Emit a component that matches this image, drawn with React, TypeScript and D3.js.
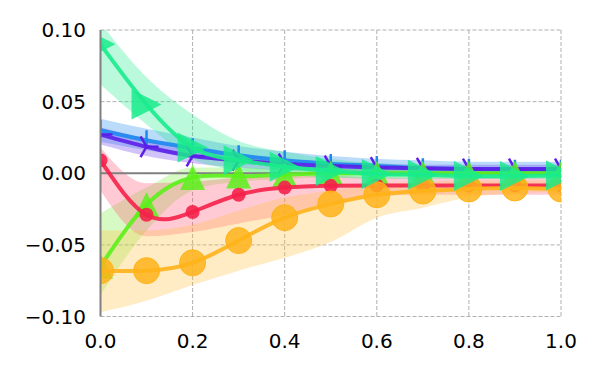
import React from "react";
import * as d3 from "d3";

const xs = [0, 0.1, 0.2, 0.3, 0.4, 0.5, 0.6, 0.7, 0.8, 0.9, 1.0];

// series values
const blueVals = [0.030, 0.023, 0.0175, 0.0125, 0.009, 0.0065, 0.005, 0.0035, 0.003, 0.0025, 0.0025];
const blueHi = [0.038, 0.031, 0.025, 0.019, 0.015, 0.012, 0.010, 0.009, 0.008, 0.008, 0.008];
const blueLo = [0.022, 0.016, 0.011, 0.007, 0.004, 0.002, 0.001, 0.0, -0.001, -0.001, -0.001];

const purpleVals = [0.027, 0.0185, 0.012, 0.009, 0.0065, 0.005, 0.004, 0.0035, 0.003, 0.003, 0.003];
const purpleHi = [0.032, 0.024, 0.017, 0.013, 0.010, 0.008, 0.007, 0.006, 0.006, 0.006, 0.006];
const purpleLo = [0.020, 0.012, 0.007, 0.004, 0.002, 0.001, 0.0, 0.0, 0.0, 0.0, 0.0];

const limeVals = [-0.065, -0.022, -0.003, -0.002, -0.001, 0, 0, 0, 0, 0, 0];
const limeHi = [-0.028, -0.010, 0.004, 0.004, 0.003, 0.003, 0.003, 0.003, 0.003, 0.003, 0.003];
const limeLo = [-0.085, -0.040, -0.012, -0.006, -0.004, -0.003, -0.003, -0.003, -0.003, -0.003, -0.003];

const redVals = [0.009, -0.029, -0.027, -0.015, -0.010, -0.0088, -0.0085, -0.0085, -0.0085, -0.0085, -0.0085];
const redHi = [0.018, -0.007, -0.006, -0.003, -0.002, -0.002, -0.003, -0.003, -0.003, -0.003, -0.003];
const redLo = [-0.012, -0.044, -0.041, -0.035, -0.029, -0.020, -0.016, -0.015, -0.015, -0.015, -0.015];

const orangeVals = [-0.068, -0.068, -0.0625, -0.047, -0.031, -0.0214, -0.015, -0.0124, -0.011, -0.0103, -0.011];
const orangeHi = [-0.040, -0.040, -0.036, -0.026, -0.017, -0.012, -0.008, -0.006, -0.005, -0.005, -0.005];
const orangeLo = [-0.097, -0.089, -0.078, -0.068, -0.059, -0.048, -0.031, -0.024, -0.017, -0.014, -0.013];

const tealVals = [0.090, 0.048, 0.018, 0.009, 0.0045, 0.0016, -0.0005, -0.001, -0.002, -0.002, -0.0015];
const tealHi = [0.105, 0.067, 0.041, 0.0225, 0.015, 0.010, 0.007, 0.005, 0.004, 0.004, 0.004];
const tealLo = [0.062, 0.034, 0.010, 0.002, -0.001, -0.003, -0.004, -0.004, -0.004, -0.004, -0.004];

const xTicks = [0, 0.2, 0.4, 0.6, 0.8, 1.0];
const xTickLabels = ["0.0", "0.2", "0.4", "0.6", "0.8", "1.0"];
const yTicks = [0.1, 0.05, 0, -0.05, -0.1];
const yTickLabels = ["0.10", "0.05", "0.00", "\u22120.05", "\u22120.10"];

const left = 100.5, right = 561, top = 30, bottom = 316.5;

const x = d3.scaleLinear().domain([0, 1]).range([left, right]);
const y = d3.scaleLinear().domain([-0.1, 0.1]).range([bottom, top]);

const line = d3.line<number>().x((d, i) => x(xs[i])).y(d => y(d)).curve(d3.curveNatural);

const band = (lo: number[], hi: number[]) =>
  d3.area<number>()
    .x((d, i) => x(xs[i]))
    .y0((d, i) => y(lo[i]))
    .y1(d => y(d))
    .curve(d3.curveMonotoneX)(hi) as string;

const series = [
  { name: "blue", color: "#1e88f0", band: "#1e88f0", vals: blueVals, lo: blueLo, hi: blueHi, marker: "vline" },
  { name: "purple", color: "#5c1ee8", band: "#6a3cf0", vals: purpleVals, lo: purpleLo, hi: purpleHi, marker: "tri" },
  { name: "lime", color: "#5cf01a", band: "#7cf03a", vals: limeVals, lo: limeLo, hi: limeHi, marker: "up" },
  { name: "red", color: "#f5214a", band: "#ff5070", vals: redVals, lo: redLo, hi: redHi, marker: "smallcircle" },
  { name: "orange", color: "#ffb31a", band: "#ffc040", vals: orangeVals, lo: orangeLo, hi: orangeHi, marker: "circle" },
  { name: "teal", color: "#1aeb8c", band: "#1aeb8c", vals: tealVals, lo: tealLo, hi: tealHi, marker: "right" },
];

function Marker({ kind, cx, cy, color }: { kind: string; cx: number; cy: number; color: string }) {
  if (kind === "vline") {
    return <line x1={cx} x2={cx} y1={cy - 10} y2={cy + 8} stroke={color} strokeWidth={2.5} />;
  }
  if (kind === "tri") {
    const r = 12;
    const pts = [0, 120, 240].map(a => [cx + r * Math.cos((a * Math.PI) / 180), cy + r * Math.sin((a * Math.PI) / 180)]);
    return (
      <g stroke={color} strokeWidth={2.5}>
        {pts.map((p, i) => <line key={i} x1={cx} y1={cy} x2={p[0]} y2={p[1]} />)}
      </g>
    );
  }
  if (kind === "up") {
    const h = 12.5;
    return <path d={`M${cx},${cy - h}L${cx + h},${cy + h}L${cx - h},${cy + h}Z`} fill={color} fillOpacity={0.85} />;
  }
  if (kind === "right") {
    const h = 15;
    return <path d={`M${cx + h},${cy}L${cx - h},${cy - h}L${cx - h},${cy + h}Z`} fill={color} fillOpacity={0.85} />;
  }
  if (kind === "smallcircle") {
    return <circle cx={cx} cy={cy} r={7} fill={color} fillOpacity={0.9} />;
  }
  return <circle cx={cx} cy={cy} r={13} fill={color} fillOpacity={0.85} stroke={color} strokeWidth={1} />;
}

export default function App() {
  return (
    <svg width={600} height={375} style={{ position: "absolute", left: 0, top: 0, background: "#fff" }}
      fontFamily="DejaVu Sans">
      <defs>
        <clipPath id="plot">
          <rect x={left} y={top} width={right - left} height={bottom - top} />
        </clipPath>
      </defs>
      {/* grid */}
      <g stroke="#b0b0b0" strokeWidth={1} strokeDasharray="4,2">
        {xTicks.map(t => <line key={"gx" + t} x1={x(t)} x2={x(t)} y1={top} y2={bottom} />)}
        {yTicks.map(t => <line key={"gy" + t} x1={left} x2={right} y1={y(t)} y2={y(t)} />)}
      </g>
      <g clipPath="url(#plot)">
        {series.map(s => (
          <path key={"b" + s.name} d={band(s.lo, s.hi)} fill={s.band} fillOpacity={0.3} />
        ))}
        <line x1={left} x2={right} y1={y(0)} y2={y(0)} stroke="#808080" strokeWidth={2} />
        {series.map(s => (
          <g key={"s" + s.name}>
            <path d={line(s.vals) as string} fill="none" stroke={s.color} strokeWidth={4} strokeOpacity={0.9} />
            {s.vals.map((v, i) => (
              <Marker key={i} kind={s.marker} cx={x(xs[i])} cy={y(v)} color={s.color} />
            ))}
          </g>
        ))}
      </g>
      <line x1={left} x2={left} y1={top} y2={bottom} stroke="#808080" strokeWidth={2} />
      <g fontSize={20} fill="#000">
        {yTicks.map((t, i) => (
          <text key={"yl" + t} x={86} y={y(t)} dy="0.36em" textAnchor="end">{yTickLabels[i]}</text>
        ))}
        {xTicks.map((t, i) => (
          <text key={"xl" + t} x={x(t)} y={348} textAnchor="middle">{xTickLabels[i]}</text>
        ))}
      </g>
    </svg>
  );
}
